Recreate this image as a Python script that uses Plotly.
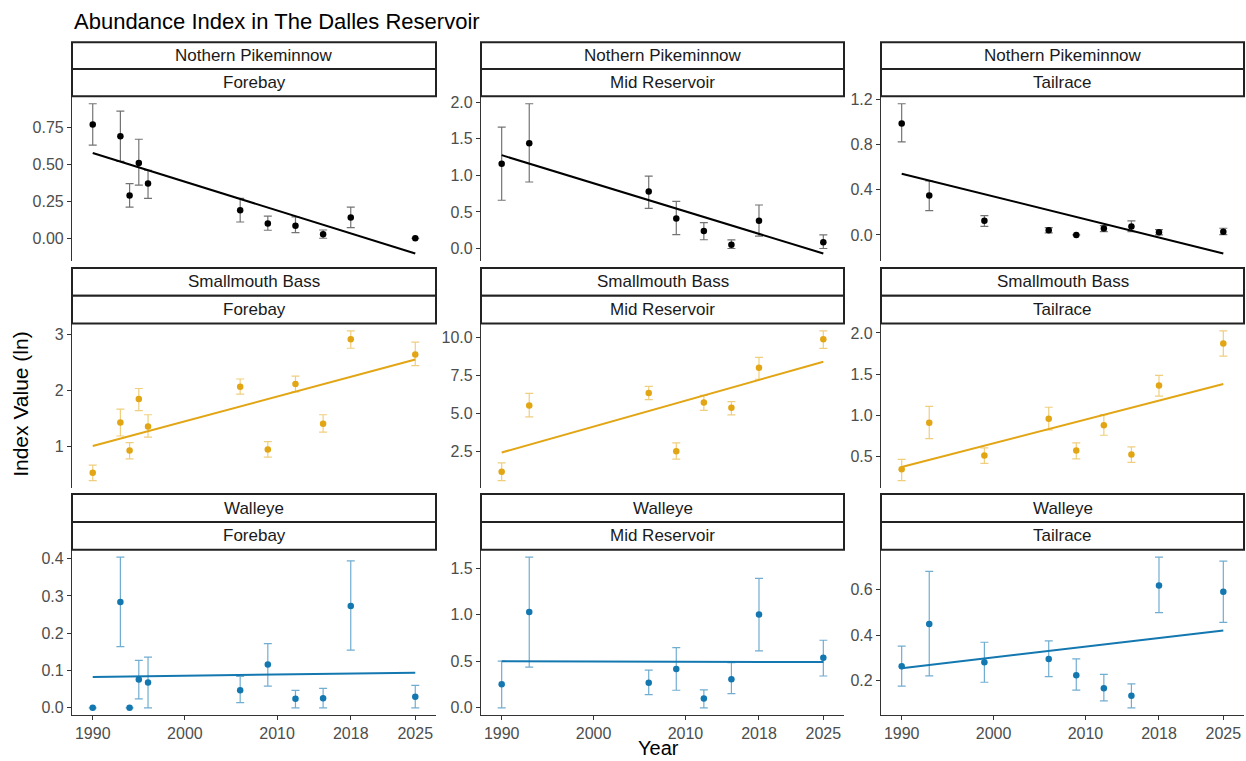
import plotly.graph_objects as go

# ---- survey years per reservoir location ----
years_forebay = [1990, 1993, 1994, 1995, 1996, 2006, 2009, 2012, 2015, 2018, 2025]
years_mid = [1990, 1993, 2006, 2009, 2012, 2015, 2018, 2025]
years_tail = [1990, 1993, 1999, 2006, 2009, 2012, 2015, 2018, 2025]

species_names = ["Nothern Pikeminnow", "Smallmouth Bass", "Walleye"]
location_names = ["Forebay", "Mid Reservoir", "Tailrace"]

x_tick_vals = [1990, 2000, 2010, 2018, 2025]
x_tick_text = ["1990", "2000", "2010", "2018", "2025"]

# ---- Northern Pikeminnow ----
pm_fore_val = [0.77, 0.69, 0.29, 0.51, 0.37, 0.19, 0.10, 0.085, 0.027, 0.14, 0.0]
pm_fore_lo = [0.63, 0.52, 0.21, 0.36, 0.27, 0.11, 0.054, 0.038, 0.0, 0.072, 0.0]
pm_fore_hi = [0.91, 0.86, 0.37, 0.67, 0.46, 0.27, 0.15, 0.144, 0.056, 0.21, 0.0]
pm_fore_trend = [0.577, -0.103]

pm_mid_val = [1.16, 1.44, 0.78, 0.41, 0.24, 0.05, 0.38, 0.086]
pm_mid_lo = [0.66, 0.91, 0.55, 0.19, 0.12, 0.0, 0.17, 0.0]
pm_mid_hi = [1.66, 1.98, 0.99, 0.645, 0.355, 0.118, 0.595, 0.186]
pm_mid_trend = [1.277, -0.068]

pm_tail_val = [0.99, 0.35, 0.126, 0.041, 0.0, 0.056, 0.074, 0.024, 0.029]
pm_tail_lo = [0.826, 0.215, 0.076, 0.018, 0.0, 0.029, 0.029, 0.0, 0.003]
pm_tail_hi = [1.165, 0.479, 0.171, 0.065, 0.0, 0.082, 0.124, 0.047, 0.059]
pm_tail_trend = [0.544, -0.165]

# ---- Smallmouth Bass ----
smb_fore_val = [0.52, 1.42, 0.92, 1.84, 1.35, 2.06, 0.94, 2.11, 1.40, 2.91, 2.64]
smb_fore_lo = [0.38, 1.18, 0.77, 1.635, 1.16, 1.93, 0.80, 1.97, 1.25, 2.75, 2.44]
smb_fore_hi = [0.66, 1.66, 1.06, 2.03, 1.56, 2.20, 1.08, 2.25, 1.56, 3.06, 2.86]
smb_fore_trend = [1.0, 2.55]

smb_mid_val = [1.2, 5.54, 6.36, 2.54, 5.75, 5.39, 8.03, 9.9]
smb_mid_lo = [0.61, 4.8, 5.93, 2.02, 5.23, 4.93, 7.27, 9.29]
smb_mid_hi = [1.78, 6.34, 6.8, 3.09, 6.21, 5.8, 8.7, 10.44]
smb_mid_trend = [2.46, 8.42]

smb_tail_val = [0.348, 0.913, 0.516, 0.961, 0.576, 0.881, 0.528, 1.362, 1.872]
smb_tail_lo = [0.211, 0.72, 0.42, 0.825, 0.476, 0.761, 0.432, 1.234, 1.72]
smb_tail_hi = [0.468, 1.11, 0.608, 1.10, 0.668, 1.01, 0.62, 1.487, 2.024]
smb_tail_trend = [0.376, 1.382]

# ---- Walleye ----
wal_fore_val = [0.0, 0.284, 0.0, 0.076, 0.068, 0.047, 0.116, 0.024, 0.026, 0.273, 0.03]
wal_fore_lo = [0.0, 0.164, 0.0, 0.024, 0.0, 0.014, 0.058, 0.0, 0.0, 0.155, 0.0]
wal_fore_hi = [0.0, 0.404, 0.0, 0.127, 0.136, 0.084, 0.172, 0.047, 0.052, 0.394, 0.06]
wal_fore_trend = [0.083, 0.094]

wal_mid_val = [0.253, 1.03, 0.271, 0.417, 0.1, 0.306, 1.005, 0.538]
wal_mid_lo = [0.0, 0.438, 0.142, 0.189, 0.0, 0.153, 0.613, 0.342]
wal_mid_hi = [0.502, 1.62, 0.406, 0.648, 0.192, 0.485, 1.393, 0.727]
wal_mid_trend = [0.502, 0.492]

wal_tail_val = [0.262, 0.449, 0.279, 0.294, 0.222, 0.165, 0.131, 0.619, 0.591]
wal_tail_lo = [0.174, 0.219, 0.191, 0.216, 0.156, 0.109, 0.078, 0.499, 0.456]
wal_tail_hi = [0.351, 0.681, 0.368, 0.374, 0.294, 0.226, 0.184, 0.744, 0.727]
wal_tail_trend = [0.253, 0.42]

# y-axis breaks per panel (row-major)
y_ticks = [
    [0.0, 0.25, 0.5, 0.75], [0.0, 0.5, 1.0, 1.5, 2.0], [0.0, 0.4, 0.8, 1.2],
    [1, 2, 3], [2.5, 5.0, 7.5, 10.0], [0.5, 1.0, 1.5, 2.0],
    [0.0, 0.1, 0.2, 0.3, 0.4], [0.0, 0.5, 1.0, 1.5], [0.2, 0.4, 0.6],
]
y_tick_text = [
    ["0.00", "0.25", "0.50", "0.75"], ["0.0", "0.5", "1.0", "1.5", "2.0"], ["0.0", "0.4", "0.8", "1.2"],
    ["1", "2", "3"], ["2.5", "5.0", "7.5", "10.0"], ["0.5", "1.0", "1.5", "2.0"],
    ["0.0", "0.1", "0.2", "0.3", "0.4"], ["0.0", "0.5", "1.0", "1.5"], ["0.2", "0.4", "0.6"],
]

species_colors = ["#000000", "#E2A514", "#1377B0"]
errbar_colors = ["rgba(0,0,0,0.55)", "rgba(226,165,20,0.55)", "rgba(19,119,176,0.6)"]

panels = [
    (years_forebay, pm_fore_val, pm_fore_lo, pm_fore_hi, pm_fore_trend),
    (years_mid, pm_mid_val, pm_mid_lo, pm_mid_hi, pm_mid_trend),
    (years_tail, pm_tail_val, pm_tail_lo, pm_tail_hi, pm_tail_trend),
    (years_forebay, smb_fore_val, smb_fore_lo, smb_fore_hi, smb_fore_trend),
    (years_mid, smb_mid_val, smb_mid_lo, smb_mid_hi, smb_mid_trend),
    (years_tail, smb_tail_val, smb_tail_lo, smb_tail_hi, smb_tail_trend),
    (years_forebay, wal_fore_val, wal_fore_lo, wal_fore_hi, wal_fore_trend),
    (years_mid, wal_mid_val, wal_mid_lo, wal_mid_hi, wal_mid_trend),
    (years_tail, wal_tail_val, wal_tail_lo, wal_tail_hi, wal_tail_trend),
]

# ---- page geometry (pixels) ----
W, H = 1246, 761
col_px = [(72, 436), (481, 844), (881, 1244)]
row_px = [(92, 258), (321, 487), (549, 716)]
strip_px = [((37.5, 64.5), (64.5, 92)), ((265, 293), (293, 321)), ((493, 521), (521, 549))]


def fx(x):
    return x / W


def fy(y):
    return 1 - y / H


FONT = "Liberation Sans, Arial, sans-serif"
AXIS_COL = "#333333"
TICK_FONT = dict(family=FONT, size=16, color="#4D4D4D")

fig = go.Figure()
layout_axes = {}
shapes = []
annotations = []

x_range = [1987.75, 2027.25]

for i, (yrs, val, lo, hi, trend) in enumerate(panels):
    r, c = divmod(i, 3)
    n = i + 1
    xa = "x" if n == 1 else f"x{n}"
    ya = "y" if n == 1 else f"y{n}"

    # fitted trend
    fig.add_trace(go.Scatter(
        x=[yrs[0], yrs[-1]], y=trend, xaxis=xa, yaxis=ya, mode="lines",
        line=dict(color=species_colors[r], width=2), showlegend=False, hoverinfo="skip",
    ))
    # estimates with intervals
    fig.add_trace(go.Scatter(
        x=yrs, y=val, xaxis=xa, yaxis=ya, mode="markers",
        marker=dict(color=species_colors[r], size=6.5),
        error_y=dict(
            type="data", symmetric=False,
            array=[h - v for h, v in zip(hi, val)],
            arrayminus=[v - l for v, l in zip(val, lo)],
            color=errbar_colors[r], thickness=1.2, width=4,
        ),
        showlegend=False,
    ))

    ymin = min(lo + trend)
    ymax = max(hi + trend)
    pad = 0.05 * (ymax - ymin)

    x0, x1 = col_px[c]
    y0, y1 = row_px[r]
    bottom = r == 2
    layout_axes["xaxis" if n == 1 else f"xaxis{n}"] = dict(
        domain=[fx(x0), fx(x1)], anchor=ya, range=x_range,
        visible=bottom, showline=bottom, linecolor=AXIS_COL, linewidth=1.2,
        ticks="outside" if bottom else "", ticklen=4, tickcolor=AXIS_COL,
        tickvals=x_tick_vals, ticktext=x_tick_text, tickfont=TICK_FONT,
        ticklabelstandoff=-1,
        showgrid=False, zeroline=False,
    )
    layout_axes["yaxis" if n == 1 else f"yaxis{n}"] = dict(
        domain=[fy(y1), fy(y0)], anchor=xa, range=[ymin - pad, ymax + pad],
        showline=True, linecolor=AXIS_COL, linewidth=1.2,
        ticks="outside", ticklen=4, tickcolor=AXIS_COL,
        tickvals=y_ticks[i], ticktext=y_tick_text[i], tickfont=TICK_FONT,
        showgrid=False, zeroline=False,
    )

    # two stacked strip labels: species over location
    for (sy0, sy1), label in zip(strip_px[r], [species_names[r], location_names[c]]):
        shapes.append(dict(
            type="rect", xref="paper", yref="paper",
            x0=fx(x0), x1=fx(x1), y0=fy(sy1), y1=fy(sy0),
            line=dict(color="#222222", width=2), fillcolor="white", layer="above",
        ))
        annotations.append(dict(
            xref="paper", yref="paper", x=fx((x0 + x1) / 2), y=fy((sy0 + sy1) / 2),
            text=label, showarrow=False, xanchor="center", yanchor="middle",
            font=dict(family=FONT, size=17, color="#1A1A1A"),
        ))

annotations.append(dict(
    xref="paper", yref="paper", x=fx(72), y=fy(17), xanchor="left", yanchor="middle",
    text="Abundance Index in The Dalles Reservoir", showarrow=False,
    font=dict(family=FONT, size=22, color="#000000"),
))
annotations.append(dict(
    xref="paper", yref="paper", x=fx(21), y=fy(402), xanchor="center", yanchor="middle",
    text="Index Value (ln)", textangle=-90, showarrow=False,
    font=dict(family=FONT, size=21, color="#000000"),
))
annotations.append(dict(
    xref="paper", yref="paper", x=fx(658), y=0, xanchor="center", yanchor="bottom",
    text="Year", showarrow=False, borderpad=0,
    font=dict(family=FONT, size=20, color="#000000"),
))

fig.update_layout(
    width=W, height=H, margin=dict(l=0, r=0, t=0, b=0),
    paper_bgcolor="white", plot_bgcolor="white",
    shapes=shapes, annotations=annotations, showlegend=False,
    **layout_axes,
)

fig.write_html("out.html")
